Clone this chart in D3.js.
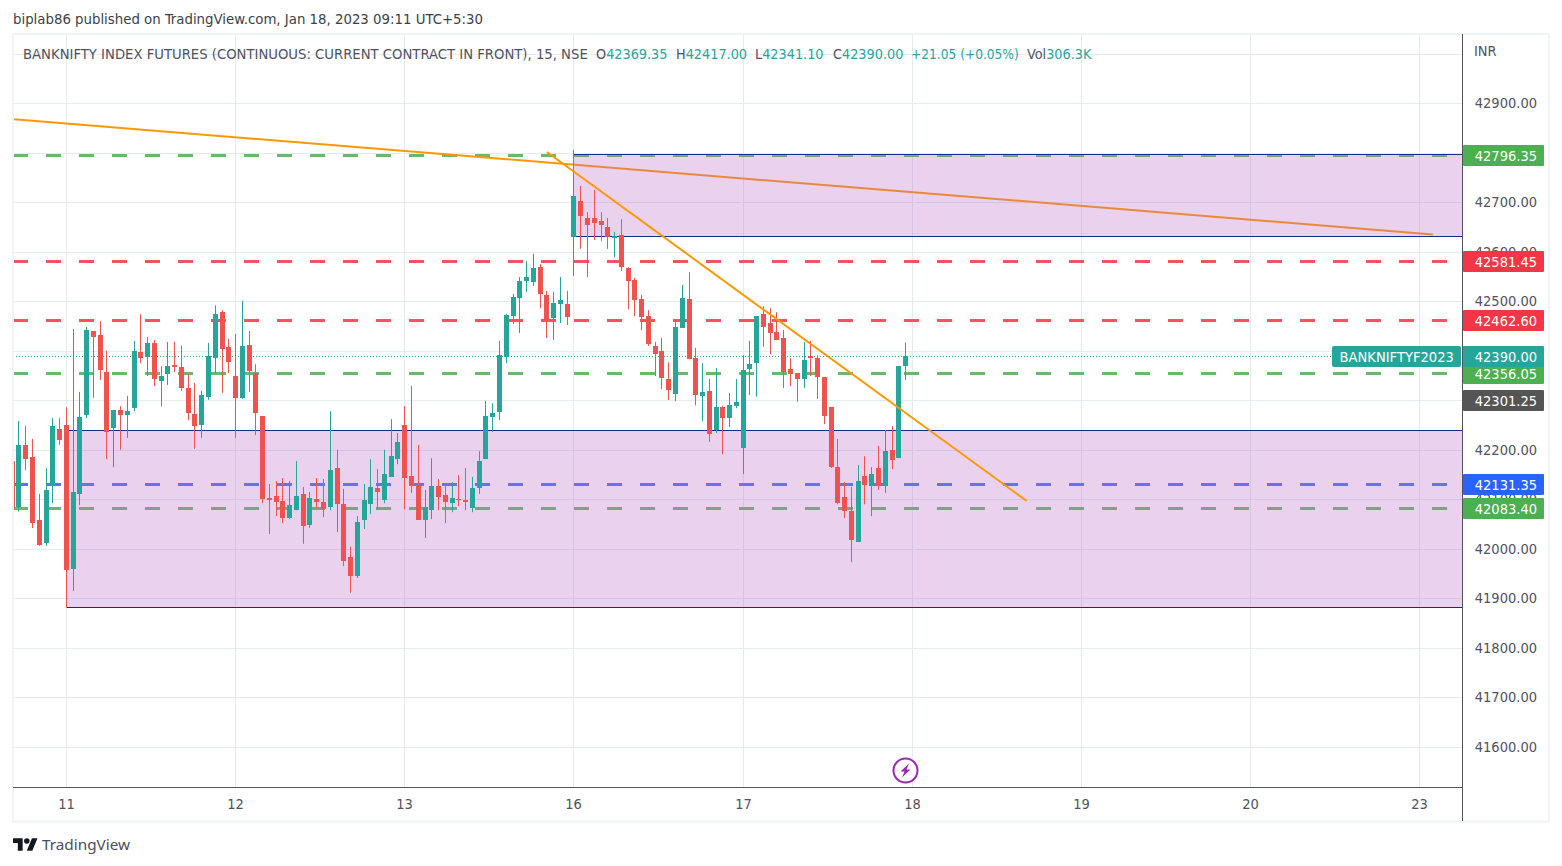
<!DOCTYPE html>
<html><head><meta charset="utf-8">
<script src="https://cdn.jsdelivr.net/npm/d3@7/dist/d3.min.js"></script>
<style>html,body{margin:0;padding:0;background:#fff;overflow:hidden}svg{display:block}text{font-family:"DejaVu Sans Condensed","DejaVu Sans",sans-serif;font-stretch:condensed}</style>
</head><body><div id="c"></div>
<script>
// first candle sits 8 bars before the 11th open; 25 bars per session
const firstBar = -8;
const opens = [42177,42084,42210,42185,42058,42012,42127,42242,42250,41959,42111,42270,42440,42432,42357,42244,42280,42270,42284,42398,42387,42416,42339,42353,42371,42367,42325,42272,42250,42307,42385,42478,42408,42349,42305,42412,42355,42268,42103,42107,42097,42062,42078,42111,42048,42101,42095,42084,42163,42090,41983,41945,42058,42090,42123,42099,42145,42181,42250,42147,42129,42058,42078,42127,42109,42092,42101,42099,42082,42123,42181,42266,42276,42387,42470,42507,42541,42539,42569,42513,42466,42495,42495,42630,42703,42668,42668,42662,42650,42628,42634,42567,42543,42505,42470,42410,42400,42343,42313,42446,42505,42385,42309,42319,42240,42286,42264,42288,42204,42363,42375,42474,42456,42438,42426,42363,42355,42343,42389,42385,42347,42286,42165,42105,42076,42014,42147,42127,42163,42127,42200,42183,42369.35];
const highs = [42177,42258,42248,42222,42111,42163,42264,42264,42286,42444,42317,42448,42440,42460,42400,42280,42288,42309,42420,42474,42428,42422,42369,42418,42418,42410,42353,42335,42319,42416,42492,42482,42424,42434,42501,42440,42373,42268,42131,42137,42143,42137,42177,42125,42115,42143,42141,42278,42200,42121,42004,42066,42131,42181,42161,42200,42262,42234,42288,42329,42210,42119,42183,42141,42129,42135,42149,42163,42145,42197,42299,42294,42420,42474,42515,42549,42581,42596,42575,42521,42519,42549,42521,42806,42733,42680,42725,42680,42668,42640,42666,42569,42547,42513,42482,42418,42426,42377,42462,42533,42559,42406,42375,42343,42365,42288,42315,42343,42391,42420,42470,42490,42486,42478,42442,42385,42355,42418,42420,42391,42347,42286,42222,42135,42125,42169,42187,42165,42208,42240,42248,42369,42417];
const lows = [42078,42075,42159,42042,42006,42006,42092,42210,41882,41915,42088,42264,42305,42341,42181,42165,42200,42224,42278,42375,42349,42329,42288,42331,42357,42319,42260,42202,42224,42301,42355,42315,42355,42224,42303,42317,42230,42092,42030,42066,42052,42060,42078,42010,42042,42082,42064,42078,42034,41965,41911,41941,42040,42070,42080,42092,42145,42171,42080,42113,42058,42022,42060,42078,42052,42074,42086,42078,42074,42111,42181,42236,42260,42375,42454,42436,42519,42531,42486,42426,42422,42456,42452,42551,42606,42549,42624,42622,42606,42589,42561,42484,42470,42442,42410,42349,42323,42301,42298,42446,42383,42290,42258,42216,42234,42191,42246,42284,42151,42311,42307,42408,42393,42422,42325,42329,42297,42325,42349,42303,42252,42163,42090,42062,41973,42014,42090,42066,42119,42113,42161,42183,42341.10];
const closes = [42080,42210,42181,42052,42008,42119,42248,42220,41957,42115,42266,42442,42428,42361,42236,42280,42270,42278,42400,42385,42416,42343,42349,42369,42367,42325,42274,42248,42311,42389,42474,42404,42377,42305,42410,42359,42274,42101,42099,42095,42062,42088,42107,42046,42103,42095,42080,42159,42090,41975,41945,42054,42099,42125,42115,42151,42187,42216,42143,42127,42058,42084,42127,42105,42095,42103,42099,42095,42123,42177,42268,42274,42391,42472,42509,42541,42549,42567,42515,42462,42497,42503,42468,42713,42672,42654,42658,42654,42630,42632,42569,42541,42503,42468,42414,42394,42345,42321,42448,42507,42383,42311,42317,42232,42286,42264,42290,42296,42361,42373,42470,42448,42436,42422,42357,42353,42343,42381,42385,42347,42268,42165,42092,42076,42018,42137,42129,42151,42127,42197,42179,42369,42390];

const dayLabels = ["11","12","13","16","17","18","19","20","23"];
const barsPerDay = 25;
const priceTicks = [42900,42800,42700,42600,42500,42400,42300,42200,42100,42000,41900,41800,41700,41600];
const gridPrices = [43000].concat(priceTicks);
const hLinePrices = [42796.35,42581.45,42462.60,42356.05,42131.35,42083.40];
const hLineColors = ["#66bb6a","#f7525f","#f7525f","#66bb6a","#4a78f8","#66bb6a"];
const zoneUpper = {from:75, top:42797, bottom:42631};
const zoneLower = {from:0, top:42240, bottom:41882};
const trendLong = [[-7.9,42868],[201.9,42635]];
const trendShort = [[71,42801.6],[141.9,42096.6]];
const axisBadges = [
 {v:"42796.35",p:42796.35,c:"#4caf50"},
 {v:"42581.45",p:42581.45,c:"#f23645"},
 {v:"42462.60",p:42462.60,c:"#f23645"},
 {v:"42356.05",p:42356.05,c:"#4caf50"},
 {v:"42301.25",p:42301.25,c:"#555555"},
 {v:"42131.35",p:42131.35,c:"#2962ff"},
 {v:"42083.40",p:42083.40,c:"#4caf50"},
 {v:"42390.00",p:42390,c:"#26a69a"}
];
const lastPrice = 42390;
const symbolName = "BANKNIFTYF2023";
const legendTitle = "BANKNIFTY INDEX FUTURES (CONTINUOUS: CURRENT CONTRACT IN FRONT), 15, NSE";
const legendParts = [["O","42369.35",596,14.3],["H","42417.00",676,14.3],["L","42341.10",755,14.3],["C","42390.00",833,14.3],["","+21.05 (+0.05%)",911,13.6],["Vol","306.3K",1027,14.3]];

const W=1562,H=866, L=13,R=1462.5,T=35,B=787.5;
const UP="#26a69a",DOWN="#ef5350",GRID="#e4ecf3",AX="#50535e",TXT="#50535e";
const x=d3.scaleLinear().domain([0,200]).range([66.35,66.35+200*6.768]);
const y=d3.scaleLinear().domain([42500,41900]).range([301.3,598.3]);
const px=v=>Math.floor(x(v));
const svg=d3.select("#c").append("svg").attr("width",W).attr("height",H);
svg.append("clipPath").attr("id","plot").append("rect").attr("x",L+1).attr("y",T).attr("width",R-L-1).attr("height",B-T);
// frame
svg.append("rect").attr("x",13).attr("y",34).attr("width",1536).attr("height",787.5).attr("fill","#fff").attr("stroke","#f0f3fa").attr("stroke-width",2);
const plot=svg.append("g").attr("clip-path","url(#plot)");
// grid
const dayIdx=dayLabels.map((d,i)=>i*barsPerDay);
plot.append("g").selectAll("line").data(dayIdx).join("line")
 .attr("x1",d=>px(d)+.5).attr("x2",d=>px(d)+.5).attr("y1",T).attr("y2",B).attr("stroke",GRID);
plot.append("g").selectAll("line").data(gridPrices).join("line")
 .attr("x1",L).attr("x2",R).attr("y1",d=>Math.round(y(d))+.5).attr("y2",d=>Math.round(y(d))+.5).attr("stroke",GRID);
// dotted last price
plot.append("line").attr("x1",L).attr("x2",R).attr("y1",Math.round(y(lastPrice))+.5).attr("y2",Math.round(y(lastPrice))+.5)
 .attr("stroke",UP).attr("stroke-dasharray","1,2");
// horizontal dashed levels
plot.append("g").selectAll("line").data(hLinePrices).join("line")
 .attr("x1",13).attr("x2",R).attr("y1",d=>Math.round(y(d))+.5).attr("y2",d=>Math.round(y(d))+.5)
 .attr("stroke",(d,i)=>hLineColors[i]).attr("stroke-width",3).attr("stroke-dasharray","15,18");
const lineGen=d3.line().x(d=>x(d[0])).y(d=>y(d[1]));
plot.append("path").attr("d",lineGen(trendLong)).attr("fill","none").attr("stroke","#ff9800").attr("stroke-width",2);
// zones
[zoneUpper,zoneLower].forEach(z=>{
 const x0=px(z.from)+.5,yt=Math.round(y(z.top))+.5,yb=Math.round(y(z.bottom))+.5;
 plot.append("rect").attr("x",x0).attr("y",yt).attr("width",R-x0).attr("height",yb-yt).attr("fill","#ba68c8").attr("fill-opacity",.3);
 [yt,yb].forEach(v=>plot.append("line").attr("x1",x0).attr("x2",R).attr("y1",v).attr("y2",v).attr("stroke","#0d2c96"));
});
// candles
const bars=opens.map((o,i)=>({i:i+firstBar,o,h:highs[i],l:lows[i],c:closes[i]}));
const cg=plot.append("g").selectAll("g").data(bars).join("g");
cg.append("rect").attr("x",d=>px(d.i)).attr("width",1).attr("y",d=>y(d.h)).attr("height",d=>y(d.l)-y(d.h))
 .attr("fill",d=>d.c>=d.o?UP:DOWN);
cg.append("rect").attr("x",d=>px(d.i)-2).attr("width",5)
 .attr("y",d=>Math.round(y(Math.max(d.o,d.c))))
 .attr("height",d=>Math.max(1,Math.round(y(Math.min(d.o,d.c)))-Math.round(y(Math.max(d.o,d.c)))))
 .attr("fill",d=>d.c>=d.o?UP:DOWN);
plot.append("path").attr("d",lineGen(trendShort)).attr("fill","none").attr("stroke","#ff9800").attr("stroke-width",2);
// axes lines
svg.append("line").attr("x1",R).attr("x2",R).attr("y1",T-1).attr("y2",821).attr("stroke",AX);
svg.append("line").attr("x1",L).attr("x2",R).attr("y1",B).attr("y2",B).attr("stroke",AX);
// price labels
svg.append("g").selectAll("text").data(priceTicks).join("text")
 .attr("x",1537).attr("y",d=>y(d)+5).attr("text-anchor","end").attr("fill",TXT).attr("font-size",14.5).text(d=>d.toFixed(2));
svg.append("text").attr("x",1474).attr("y",56).attr("fill",TXT).attr("font-size",14.5).text("INR");
// day labels
svg.append("g").selectAll("text").data(dayLabels).join("text")
 .attr("x",(d,i)=>px(i*barsPerDay)+.5).attr("y",809).attr("text-anchor","middle").attr("fill",TXT).attr("font-size",14.5).text(d=>d);
// badges
const bg=svg.append("g").selectAll("g").data(axisBadges).join("g");
bg.append("rect").attr("x",1463).attr("width",81).attr("height",21).attr("rx",1)
 .attr("y",d=>Math.round(y(d.p))-10).attr("fill",d=>d.c);
bg.append("text").attr("x",1537).attr("y",d=>Math.round(y(d.p))+5.5).attr("text-anchor","end").attr("fill","#fff").attr("font-size",14.5).text(d=>d.v);
const ny=Math.round(y(lastPrice))-10;
svg.append("rect").attr("x",1332).attr("y",ny).attr("width",129).attr("height",21).attr("rx",2).attr("fill",UP);
svg.append("text").attr("x",1339.5).attr("y",ny+15.5).attr("fill","#fff").attr("font-size",14.6).text(symbolName);
// legend
svg.append("text").attr("x",23).attr("y",59).attr("fill",TXT).attr("font-size",14.7).text(legendTitle);
legendParts.forEach(p=>{
 const t=svg.append("text").attr("x",p[2]).attr("y",59).attr("font-size",p[3]);
 if(p[0]) t.append("tspan").attr("fill",TXT).text(p[0]);
 t.append("tspan").attr("fill",UP).text(p[1]);
});
// header
svg.append("text").attr("x",13).attr("y",24).attr("fill","#3c3f47").attr("font-size",14.8).text("biplab86 published on TradingView.com, Jan 18, 2023 09:11 UTC+5:30");
// logo
const logo=svg.append("g").attr("transform","translate(13,835.5) scale(.69)").attr("fill","#131722");
logo.append("path").attr("d","M14 22H7V11H0V4h14v18zM28 22h-8l7.5-18h8L28 22z");
logo.append("circle").attr("cx",20).attr("cy",8).attr("r",4);
svg.append("text").attr("x",42).attr("y",850).attr("fill","#4a4e59").attr("font-size",15.3).style("font-family",'"Noto Sans",sans-serif').style("font-stretch","normal").text("TradingView");
// event marker
const ev=svg.append("g").attr("transform","translate(905.5,770.5)");
ev.append("circle").attr("r",12).attr("fill","#fff").attr("stroke","#9c27b0").attr("stroke-width",2);
ev.append("path").attr("d","M3.5,-7 L-5,1 L-1,1 L-3.5,7 L5,-1 L1,-1 Z").attr("fill","#9c27b0");
</script></body></html>
